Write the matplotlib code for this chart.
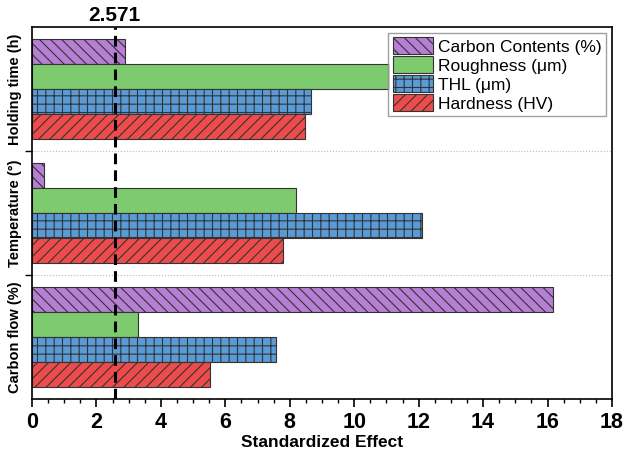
import numpy as np
import matplotlib.pyplot as plt

plt.rcParams['font.family'] = ['Liberation Sans', 'DejaVu Sans']
plt.rcParams['hatch.linewidth'] = 0.8

factors = ['Carbon flow (%)', 'Temperature (°)', 'Holding time (h)']
series = ['Carbon Contents (%)', 'Roughness (μm)', 'THL (μm)', 'Hardness (HV)']
carbon = [16.18, 0.36, 2.89]
rough = [3.29, 8.2, 11.08]
thl = [7.58, 12.12, 8.66]
hard = [5.54, 7.78, 8.47]
t_crit = 2.571

colors = ['#B77FD3', '#7DCB6E', '#5A9BD6', '#EE4C4C']
hatches = ['\\\\\\', '', '++', '///']
values = [carbon, rough, thl, hard]
offsets = [0.3, 0.1, -0.1, -0.3]

fig = plt.figure(figsize=(6.27, 4.54), dpi=100)
ax = fig.add_axes([0.051, 0.121, 0.925, 0.8195])

y = np.arange(len(factors))
for vals, c, h, off, lab in zip(values, colors, hatches, offsets, series):
    ax.barh(y + off, vals, height=0.2, color=c, hatch=h, edgecolor='#333333',
            linewidth=0.8, label=lab)

ax.axvline(t_crit, color='black', linestyle=(0, (3.5, 2)), linewidth=2.2, zorder=5)
ax.text(t_crit, 2.52, '%.3f' % t_crit, ha='center', va='bottom',
        fontsize=15, fontweight='bold')

ax.set_xlim(0, 18)
ax.set_ylim(-0.5, 2.5)
ax.set_xticks(np.arange(0, 19, 2))
ax.set_xticks(np.arange(0, 18.01, 0.5), minor=True)
ax.set_yticks(y)
ax.set_yticklabels(factors, rotation=90, va='center', fontsize=10.5, fontweight='bold')
ax.set_yticks([0.5, 1.5], minor=True)
ax.tick_params(axis='y', which='major', length=0, pad=7)
ax.tick_params(axis='y', which='minor', length=5, width=1)
ax.tick_params(axis='x', which='major', length=6, width=1.2, labelsize=15.5)
ax.tick_params(axis='x', which='minor', length=3, width=1)
for lbl in ax.get_xticklabels():
    lbl.set_fontweight('bold')
ax.grid(axis='y', which='minor', linestyle=':', color='#BBBBBB', linewidth=0.8)
ax.set_xlabel('Standardized Effect', fontsize=12.5, fontweight='bold', labelpad=1)

for s in ax.spines.values():
    s.set_linewidth(1.2)

leg = ax.legend(loc='upper right', fontsize=12.5, handlelength=2.3, handleheight=1.1,
                labelspacing=0.1, handletextpad=0.3, borderpad=0.25,
                borderaxespad=0.35, fancybox=False, edgecolor='#888888', shadow=False)
leg.get_frame().set_linewidth(1.0)

fig.savefig('out.png', dpi=100)
